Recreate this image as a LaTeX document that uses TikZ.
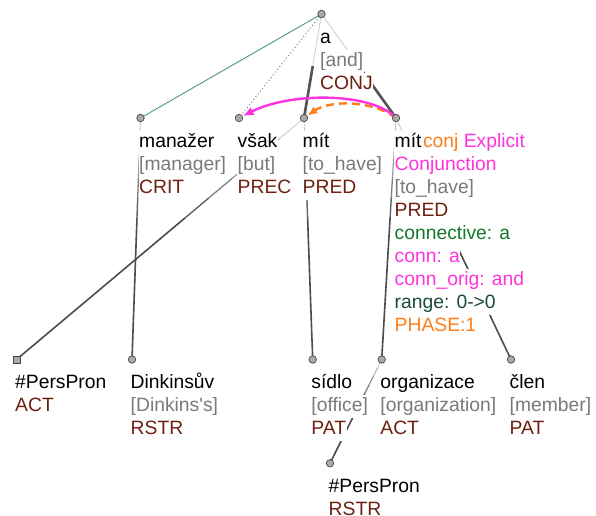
\documentclass[tikz,border=0pt]{standalone}
\usepackage{fontspec}
\setmainfont{Liberation Sans}[Ligatures=TeXOff]
\usetikzlibrary{calc,arrows.meta}
\definecolor{gloss}{RGB}{122,122,122}
\definecolor{func}{RGB}{110,32,16}
\definecolor{conng}{RGB}{20,120,40}
\definecolor{mag}{RGB}{255,51,221}
\definecolor{rng}{RGB}{25,75,60}
\definecolor{orng}{RGB}{255,125,25}
\definecolor{grn}{RGB}{80,150,120}
\definecolor{nfill}{RGB}{170,170,170}
\definecolor{nline}{RGB}{70,70,70}
\pgfdeclarelayer{bg}
\pgfdeclarelayer{mid}
\pgfsetlayers{bg,mid,main}
\tikzset{
  tnode/.style={circle,draw=nline,fill=nfill,line width=0.7pt,inner sep=0pt,minimum size=7.5pt},
  snode/.style={rectangle,draw=nline,fill=nfill,line width=0.7pt,inner sep=0pt,minimum size=7pt},
  lbl/.style={anchor=base west,fill=white,inner xsep=0.5pt,inner ysep=0pt,text height=16.5pt,text depth=6.6pt,font=\fontsize{19.3}{23}\selectfont},
  wordc/.style={text=black},
  glossc/.style={text=gloss},
  funcc/.style={text=func},
}
\newcommand\tlab[4]{\node[lbl,#3] (#1-l#2) at ($(#1.center)+(-2,{29+23*(#2-1)})$) {#4};}
\newcommand\cedge[2]{%
  \draw[line width=0.9pt,draw=black!18] (#1.center) -- ($(#1.center)!0.5!(#2.center)$);
  \draw[line width=2.6pt,draw=black!67] ($(#1.center)!0.5!(#2.center)$) -- (#2.center);}
\newcommand\gedge[2]{%
  \foreach \i in {1,...,12}{%
    \pgfmathsetmacro\ta{(\i-1)/12}%
    \pgfmathsetmacro\tb{\i/12}%
    \pgfmathsetmacro\pc{min(70,12+58*\tb/0.5)}%
    \pgfmathsetmacro\lw{min(1.6,0.7+0.9*\tb/0.5)}%
    \draw[line width=\lw pt,draw=black!\pc,line cap=round] ($(#1.center)!\ta!(#2.center)$) -- ($(#1.center)!\tb!(#2.center)$);
  }}
\begin{document}
\begin{tikzpicture}[x=1pt,y=-1pt]
\useasboundingbox (0,0) rectangle (596,515);
% tree nodes
\node[tnode] (a) at (321.5,14) {};
\node[tnode] (manazer) at (140.5,118) {};
\node[tnode] (vsak) at (239,118) {};
\node[tnode] (mit) at (304,118) {};
\node[tnode] (mitc) at (396,118) {};
\node[snode] (pp) at (16.5,359.5) {};
\node[tnode] (dink) at (132,359.5) {};
\node[tnode] (sidlo) at (312.7,359.5) {};
\node[tnode] (org) at (381.7,359.5) {};
\node[tnode] (clen) at (511,359.5) {};
\node[tnode] (pp2) at (330,463.3) {};
% edges
\begin{pgfonlayer}{bg}
\draw[grn,line width=0.9pt] (a.center) -- (manazer.center);
\draw[gray,line width=1pt,dash pattern=on 1pt off 2.5pt] (a.center) -- (vsak.center);
\cedge{a}{mit}
\cedge{a}{mitc}
\gedge{manazer}{dink}
\gedge{mit}{pp}
\gedge{mit}{sidlo}
\gedge{mitc}{org}
\gedge{mitc}{clen}
\gedge{org}{pp2}
\end{pgfonlayer}
% labels
\begin{pgfonlayer}{mid}
\tlab{a}{1}{wordc}{a}
\tlab{a}{2}{glossc}{[and]}
\tlab{a}{3}{funcc}{CONJ}
\tlab{manazer}{1}{wordc}{manažer}
\tlab{manazer}{2}{glossc}{[manager]}
\tlab{manazer}{3}{funcc}{CRIT}
\tlab{vsak}{1}{wordc}{však}
\tlab{vsak}{2}{glossc}{[but]}
\tlab{vsak}{3}{funcc}{PREC}
\tlab{mit}{1}{wordc}{mít}
\tlab{mit}{2}{glossc}{[to\_have]}
\tlab{mit}{3}{funcc}{PRED}
\tlab{mitc}{1}{wordc}{mít\kern1.5pt\textcolor{orng}{conj} \textcolor{mag}{Explicit}}
\tlab{mitc}{2}{text=mag}{Conjunction}
\tlab{mitc}{3}{glossc}{[to\_have]}
\tlab{mitc}{4}{funcc}{PRED}
\tlab{mitc}{5}{text=conng}{connective: a}
\tlab{mitc}{6}{text=mag}{conn: a}
\tlab{mitc}{7}{text=mag}{conn\_orig: and}
\tlab{mitc}{8}{text=rng}{range: 0->0}
\tlab{mitc}{9}{text=orng}{PHASE:1}
\tlab{pp}{1}{wordc}{\#PersPron}
\tlab{pp}{2}{funcc}{ACT}
\tlab{dink}{1}{wordc}{Dinkinsův}
\tlab{dink}{2}{glossc}{[Dinkins's]}
\tlab{dink}{3}{funcc}{RSTR}
\tlab{sidlo}{1}{wordc}{sídlo}
\tlab{sidlo}{2}{glossc}{[office]}
\tlab{sidlo}{3}{funcc}{PAT}
\tlab{org}{1}{wordc}{organizace}
\tlab{org}{2}{glossc}{[organization]}
\tlab{org}{3}{funcc}{ACT}
\tlab{clen}{1}{wordc}{člen}
\tlab{clen}{2}{glossc}{[member]}
\tlab{clen}{3}{funcc}{PAT}
\tlab{pp2}{1}{wordc}{\#PersPron}
\tlab{pp2}{2}{funcc}{RSTR}
% coreference / discourse arrows
\draw[orng,line width=2.4pt,dash pattern=on 8pt off 5pt,-{Latex[length=10pt,width=8pt]}] (mitc.center) .. controls (372,100) and (330,100) .. (mit);
\draw[mag,line width=2.4pt,-{Latex[length=11pt,width=9pt]}] (mitc.center) .. controls (372,92) and (290,92) .. (vsak);
\end{pgfonlayer}
\end{tikzpicture}
\end{document}
